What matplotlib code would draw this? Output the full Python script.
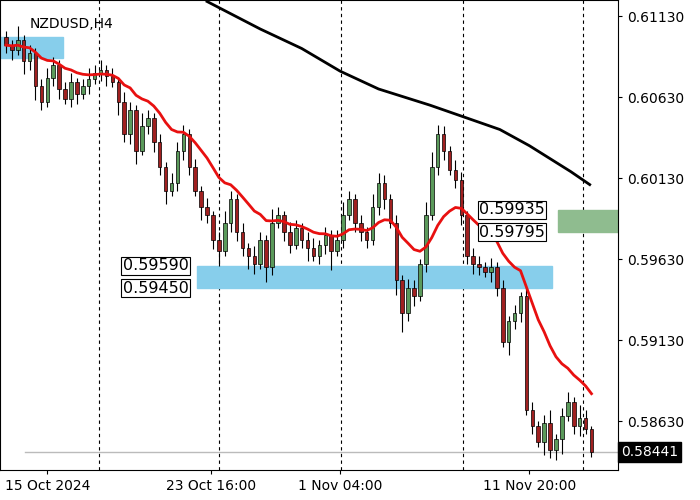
import matplotlib
matplotlib.use("Agg")
import matplotlib.pyplot as plt
import pandas as pd
from matplotlib.patches import Rectangle

closes = [0.6095,0.6092,0.6098,0.6085,0.6090,0.6070,0.6060,0.6075,0.6083,0.6068,0.6062,0.6072,0.6065,0.6070,0.6074,0.6078,0.6080,0.6076,0.6072,0.6060,
          0.6040,0.6055,0.6030,0.6045,0.6050,0.6035,0.6020,0.6005,0.6010,0.6030,0.6040,0.6020,0.6005,0.5995,0.5990,0.5975,0.5968,0.5985,0.6000,0.5980,
          0.5970,0.5965,0.5960,0.5975,0.5958,0.5985,0.5990,0.5980,0.5972,0.5982,0.5975,0.5970,0.5965,0.5972,0.5978,0.5968,0.5975,0.5990,0.6000,0.5985,
          0.5980,0.5975,0.5995,0.6010,0.6000,0.5985,0.5950,0.5930,0.5945,0.5940,0.5960,0.5990,0.6020,0.6040,0.6030,0.6018,0.6012,0.5990,0.5965,0.5960,
          0.5958,0.5955,0.5958,0.5945,0.5912,0.5925,0.5930,0.5940,0.5870,0.5860,0.5850,0.5862,0.5845,0.5852,0.5866,0.5875,0.5860,0.5865,0.5858,0.5844]
first_open = 0.6100
wick_up = [4,3,9,3,5,3,4,6,5,3,4,6,3,4,7,5,6,3,5,3,
           6,5,3,8,5,3,5,3,6,5,6,3,5,3,6,3,5,8,5,3,
           5,3,6,5,3,9,5,3,6,5,3,5,6,3,5,3,6,8,5,3,
           5,3,8,6,5,3,5,3,6,5,3,8,9,6,5,3,6,5,3,5,
           5,3,6,3,5,3,5,3,6,5,3,5,8,3,5,6,3,8,5,2]
wick_dn = [5,6,3,8,5,9,5,3,5,6,3,5,6,3,5,3,5,6,3,8,
           5,6,8,3,5,6,5,8,3,5,6,5,3,8,5,6,9,3,5,6,
           5,8,6,3,9,5,3,6,5,3,5,8,3,5,6,12,3,5,3,5,
           6,5,3,5,6,3,9,12,5,6,3,5,3,5,6,3,5,6,5,6,
           5,3,6,5,3,8,5,6,3,5,3,8,5,6,9,3,5,6,3,3]
ma200_idx = [34, 43, 50, 56.5, 63, 71.7, 78, 83.5, 88.5, 92, 95.5, 98.7]
ma200 = [0.6122, 0.6105, 0.6093, 0.6079, 0.6068, 0.6058, 0.6050, 0.6043, 0.6033, 0.6025, 0.6017, 0.6009]

tick_labels = ["15 Oct 2024", "23 Oct 16:00", "1 Nov 04:00", "11 Nov 20:00"]
tick_pos = [7, 34.6, 56.5, 88.5]
vlines = [15.7, 36.1, 56.7, 77.2, 97.6]
yticks = [0.61130, 0.60630, 0.60130, 0.59630, 0.59130, 0.58630]

opens = [first_open] + closes[:-1]
pip = 0.0001
fig = plt.figure(figsize=(7, 5), dpi=100)
ax = fig.add_axes([0.0, 0.06, 0.883, 0.94])
n = len(closes)
for i in range(n):
    o, c = opens[i], closes[i]
    hi = max(o, c) + wick_up[i] * pip
    lo = min(o, c) - wick_dn[i] * pip
    col = '#5b9a5b' if c >= o else '#a02020'
    ax.vlines(i, lo, hi, color='black', lw=0.8, zorder=3)
    ax.add_patch(Rectangle((i - 0.3, min(o, c)), 0.6, max(abs(c - o), 0.00004),
                           facecolor=col, edgecolor='black', lw=0.5, zorder=4))
ema = pd.Series(closes).ewm(span=16, adjust=False).mean()
ax.plot(range(n), ema, color='#e81010', lw=2, zorder=5)
ax.plot(ma200_idx, ma200, color='black', lw=2, zorder=5)
ax.axhline(0.58441, color='#bbbbbb', lw=1, xmin=0.04, zorder=1)
for v in vlines:
    ax.axvline(v, color='black', ls=(0, (3, 3)), lw=0.8, zorder=1)
ax.add_patch(Rectangle((-1, 0.6087), 10.7, 0.0013, color='#87ceeb', zorder=2))
ax.add_patch(Rectangle((32.3, 0.59450), 60, 0.0014, color='#87ceeb', zorder=2))
ax.add_patch(Rectangle((93.3, 0.59795), 12, 0.0014, color='#8fbc8f', zorder=2))
for y in (0.59590, 0.59450):
    ax.text(30.9, y, f"{y:.5f}", fontsize=11.5, va='center', ha='right', zorder=6,
            bbox=dict(facecolor='white', edgecolor='black', lw=0.8, pad=1))
for y in (0.59935, 0.59795):
    ax.text(80.0, y, f"{y:.5f}", fontsize=11.5, va='center', ha='left', zorder=6,
            bbox=dict(facecolor='white', edgecolor='black', lw=0.8, pad=1))
ax.text(4, 0.6108, "NZDUSD,H4", fontsize=10, va='center')
ax.set_xlim(-1, 103.5)
ax.set_ylim(0.58329, 0.61229)
ax.yaxis.tick_right()
ax.set_yticks(yticks)
ax.set_yticklabels([f"{y:.5f}" for y in yticks], fontsize=10)
ax.set_xticks(tick_pos)
ax.set_xticklabels(tick_labels, fontsize=10)
ax.tick_params(length=3)
ax.text(1.005, 0.58441, "0.58441", transform=ax.get_yaxis_transform(), fontsize=10,
        color='white', va='center', ha='left', bbox=dict(facecolor='black', pad=2))
fig.savefig("out.png", dpi=100)
